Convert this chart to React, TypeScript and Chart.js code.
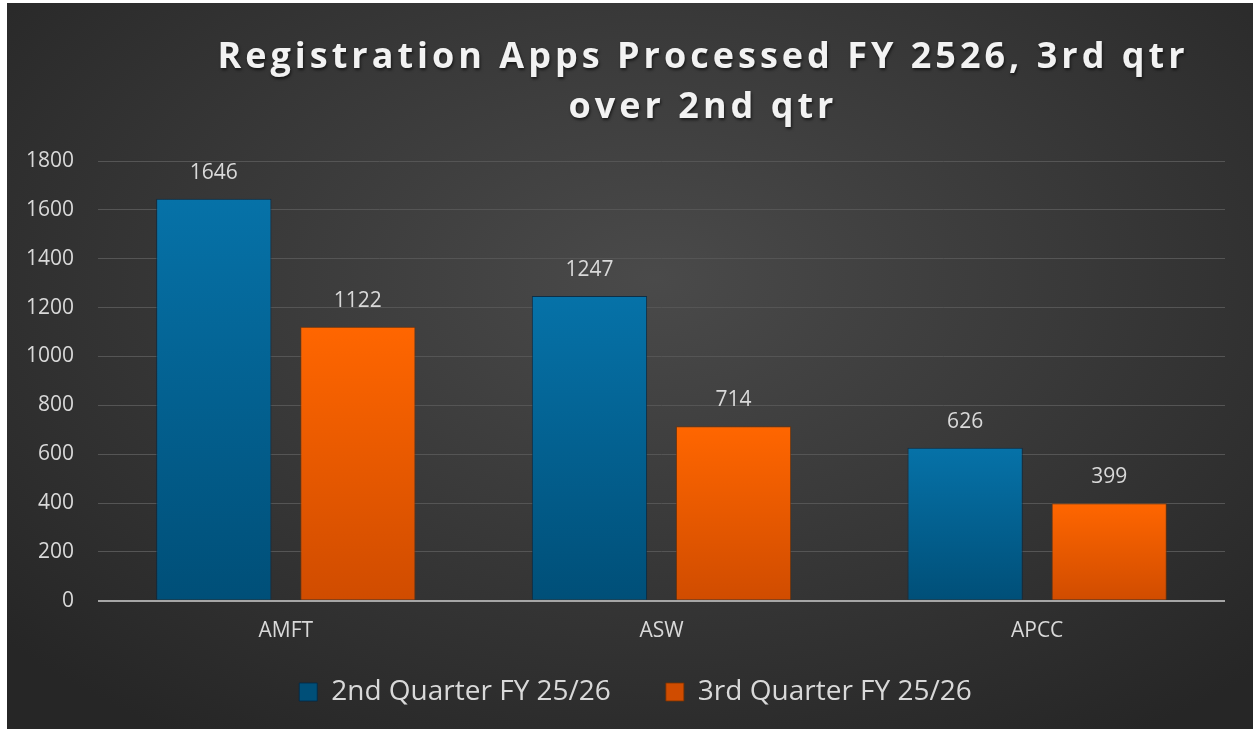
import React, { useEffect, useRef } from "react";
import { Chart, registerables } from "chart.js";

Chart.register(...registerables);

const categories = ["AMFT", "ASW", "APCC"];
const q2Values = [1646, 1247, 626];
const q3Values = [1122, 714, 399];
const seriesLabels = ["2nd Quarter FY 25/26", "3rd Quarter FY 25/26"];
const titleLines = ["Registration Apps Processed FY 2526, 3rd qtr", "over 2nd qtr"];
const yTicks = [0, 200, 400, 600, 800, 1000, 1200, 1400, 1600, 1800];

const FONT = "'Open Sans', 'Liberation Sans', sans-serif";

function barGradient(ctx: any, top: string, bottom: string) {
  const chart = ctx.chart;
  const area = chart.chartArea;
  if (!area) return top;
  const yScale = chart.scales.y;
  const v = ctx.raw ?? 0;
  const yTop = yScale.getPixelForValue(v);
  const yBase = yScale.getPixelForValue(0);
  const g = chart.ctx.createLinearGradient(0, yTop, 0, yBase);
  g.addColorStop(0, top);
  g.addColorStop(1, bottom);
  return g;
}

const titlePlugin = {
  id: "customTitle",
  afterDraw(chart: any) {
    const c = chart.ctx;
    c.save();
    c.font = `bold 36px ${FONT}`;
    c.fillStyle = "#f2f2f2";
    c.textAlign = "center";
    c.textBaseline = "middle";
    (c as any).letterSpacing = "4px";
    c.shadowColor = "rgba(0,0,0,0.6)";
    c.shadowBlur = 3;
    c.shadowOffsetX = 1;
    c.shadowOffsetY = 2;
    const cx = chart.width / 2 + 73;
    c.fillText(titleLines[0], cx, 55);
    c.fillText(titleLines[1], cx, 105);
    c.restore();
  },
};

const dataLabelPlugin = {
  id: "dataLabels",
  afterDatasetsDraw(chart: any) {
    const c = chart.ctx;
    c.save();
    c.font = `21px ${FONT}`;
    c.fillStyle = "#d9d9d9";
    c.textAlign = "center";
    c.textBaseline = "middle";
    chart.data.datasets.forEach((ds: any, i: number) => {
      const meta = chart.getDatasetMeta(i);
      meta.data.forEach((bar: any, j: number) => {
        c.fillText(String(ds.data[j]), bar.x, bar.y - 26);
      });
    });
    c.restore();
  },
};

// shift the legend's drawing position after layout
const legendShiftPlugin = {
  id: "legendShift",
  afterLayout(chart: any) {
    const l = chart.legend;
    if (!l) return;
    l.top -= 31;
    l.bottom -= 31;
    l.left += 10;
    l.right += 10;
  },
};

export default function App() {
  const ref = useRef<HTMLCanvasElement | null>(null);
  useEffect(() => {
    if (!ref.current) return;
    const chart = new Chart(ref.current, {
      type: "bar",
      data: {
        labels: categories,
        datasets: [
          {
            label: seriesLabels[0],
            data: q2Values,
            backgroundColor: (ctx: any) => barGradient(ctx, "#0672a8", "#004f78"),
            borderColor: "rgba(0,40,70,0.8)",
            borderWidth: 1,
            categoryPercentage: 0.767,
            barPercentage: 0.8,
          },
          {
            label: seriesLabels[1],
            data: q3Values,
            backgroundColor: (ctx: any) => barGradient(ctx, "#ff6600", "#d04c00"),
            borderColor: "rgba(120,50,0,0.8)",
            borderWidth: 1,
            categoryPercentage: 0.767,
            barPercentage: 0.8,
          },
        ],
      },
      options: {
        animation: false,
        responsive: true,
        maintainAspectRatio: false,
        layout: { padding: { top: 158, left: 19, right: 28, bottom: -18 } },
        plugins: {
          title: { display: false },
          tooltip: { enabled: false },
          legend: {
            display: true,
            position: "bottom",
            labels: {
              color: "#d9d9d9",
              font: { family: FONT, size: 28 },
              boxWidth: 18,
              boxHeight: 18,
              padding: 55,
            },
          },
        },
        scales: {
          x: {
            grid: { display: false },
            border: { display: false },
            ticks: {
              color: "#d9d9d9",
              font: { family: FONT, size: 21 },
              padding: 10,
            },
          },
          y: {
            min: 0,
            max: 1800,
            afterBuildTicks: (scale: any) => {
              scale.ticks = yTicks.map((v) => ({ value: v }));
            },
            afterFit: (scale: any) => {
              scale.width = 72;
            },
            border: { display: false },
            grid: {
              drawTicks: false,
              color: (ctx: any) => (ctx.tick && ctx.tick.value === 0 ? "#a6a6a6" : "#555555"),
              lineWidth: (ctx: any) => (ctx.tick && ctx.tick.value === 0 ? 2 : 1),
            },
            ticks: {
              color: "#d9d9d9",
              font: { family: FONT, size: 21 },
              padding: 24,
              callback: (v: any) => String(v),
            },
          },
        },
      },
      plugins: [titlePlugin, dataLabelPlugin, legendShiftPlugin],
    });
    return () => chart.destroy();
  }, []);

  return (
    <div
      style={{
        position: "fixed",
        left: 7,
        top: 3,
        width: 1246,
        height: 726,
        background: "radial-gradient(ellipse 70% 75% at 52% 38%, #4a4a4a 0%, #3a3a3a 45%, #262626 100%)",
      }}
    >
      <canvas ref={ref} />
    </div>
  );
}
